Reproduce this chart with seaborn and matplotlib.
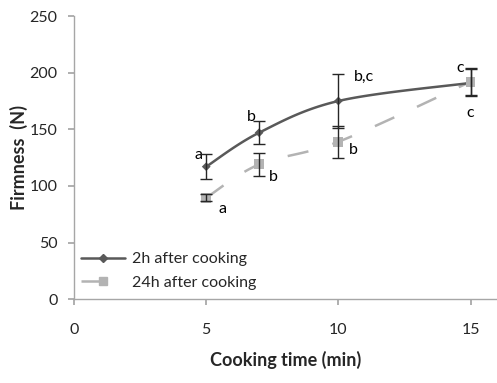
import numpy as np
import pandas as pd
import matplotlib
matplotlib.use("Agg")
import matplotlib.pyplot as plt
import seaborn as sns
from matplotlib.lines import Line2D

# Data
cooking_time = [5, 7, 10, 15]
firm_2h = [117, 147, 175, 191]
err_2h = [11, 10, 24, 12]
firm_24h = [89.5, 119, 139, 192]
err_24h = [3, 10, 14, 12]
letters_2h = ["a", "b", "b,c", "c"]
letters_24h = ["a", "b", "b", "c"]
series_names = ["2h after cooking", "24h after cooking"]

sns.set_theme(style="white")
plt.rcParams['font.family'] = ['Lato', 'DejaVu Sans']

df = pd.DataFrame({
    "time": cooking_time * 2,
    "firmness": firm_2h + firm_24h,
    "series": [series_names[0]] * 4 + [series_names[1]] * 4,
})

fig = plt.figure(figsize=(4.97, 3.83), dpi=100)
ax = fig.add_axes([0.149, 0.219, 0.851, 0.739])

c2 = "#595959"
c24 = "#b3b3b3"


def smooth(x, y, n=40, tension=0.5):
    # Catmull-Rom style smoothing (like Excel's smoothed line) for rendering
    x = np.asarray(x, float); y = np.asarray(y, float)
    px = np.concatenate([[x[0]], x, [x[-1]]]); py = np.concatenate([[y[0]], y, [y[-1]]])
    xs, ys = [], []
    for i in range(1, len(px) - 2):
        p0 = np.array([px[i - 1], py[i - 1]]); p1 = np.array([px[i], py[i]])
        p2 = np.array([px[i + 1], py[i + 1]]); p3 = np.array([px[i + 2], py[i + 2]])
        c1 = p1 + (p2 - p0) * tension / 3
        c2_ = p2 - (p3 - p1) * tension / 3
        t = np.linspace(0, 1, n)[:, None]
        b = (1 - t) ** 3 * p1 + 3 * (1 - t) ** 2 * t * c1 + 3 * (1 - t) * t ** 2 * c2_ + t ** 3 * p2
        xs.extend(b[:, 0]); ys.extend(b[:, 1])
    return np.array(xs), np.array(ys)

sx, sy = smooth(cooking_time, firm_2h)
ax.plot(sx, sy, color=c2, lw=1.8, zorder=3)
sx2, sy2 = smooth(cooking_time, firm_24h)
ax.plot(sx2, sy2, color=c24, lw=1.8, dashes=(8.5, 10), zorder=2)

sns.scatterplot(data=df, x="time", y="firmness", hue="series", style="series",
                markers={series_names[0]: "D", series_names[1]: "s"},
                palette={series_names[0]: c2, series_names[1]: c24},
                s=[20] * 4 + [50] * 4, ax=ax, legend=False, zorder=4,
                edgecolor="none")

ax.errorbar(cooking_time, firm_2h, yerr=err_2h, fmt="none", ecolor="#262626",
            elinewidth=1, capsize=4, capthick=1, zorder=5)
ax.errorbar(cooking_time, firm_24h, yerr=err_24h, fmt="none", ecolor="#262626",
            elinewidth=1, capsize=4, capthick=1, zorder=5)

# letters
off_2h = [(-0.3, 10), (-0.3, 14), (0.95, 21), (-0.4, 13)]
off_24h = [(0.6, -10), (0.55, -11), (0.57, -7), (0.0, -28)]
for x, y, t, (dx, dy) in zip(cooking_time, firm_2h, letters_2h, off_2h):
    ax.text(x + dx, y + dy, t, fontsize=11.5, ha="center", va="center", color="black")
for x, y, t, (dx, dy) in zip(cooking_time, firm_24h, letters_24h, off_24h):
    ax.text(x + dx, y + dy, t, fontsize=11.5, ha="center", va="center", color="black")

# legend
handles = [Line2D([], [], color=c2, lw=1.8, marker="D", markersize=4),
           Line2D([], [], color=c24, lw=1.8, marker="s", markersize=6, dashes=(10.5, 20))]
ax.legend(handles, series_names, loc="lower left", bbox_to_anchor=(0.017, 0.032),
          frameon=False, fontsize=11.5, handlelength=2.75, handletextpad=0.45,
          labelspacing=0.6, borderpad=0, borderaxespad=0)

ax.set_xlim(0, 16)
ax.set_ylim(0, 250)
ax.set_xticks([0, 5, 10, 15])
ax.set_yticks([0, 50, 100, 150, 200, 250])
for s in ["top", "right"]:
    ax.spines[s].set_visible(False)
for s in ["left", "bottom"]:
    ax.spines[s].set_color("#a6a6a6")
    ax.spines[s].set_linewidth(1)
ax.tick_params(axis="both", which="both", length=4, color="#a6a6a6",
               labelsize=11.5, direction="out", bottom=True, left=True, pad=8)
ax.tick_params(axis="x", pad=13)
ax.set_xlabel("Cooking time (min)", fontsize=13, fontweight="bold", labelpad=10)
ax.set_ylabel("Firmness  (N)", fontsize=13, fontweight="bold", labelpad=1)

fig.savefig("out.png", dpi=100)
